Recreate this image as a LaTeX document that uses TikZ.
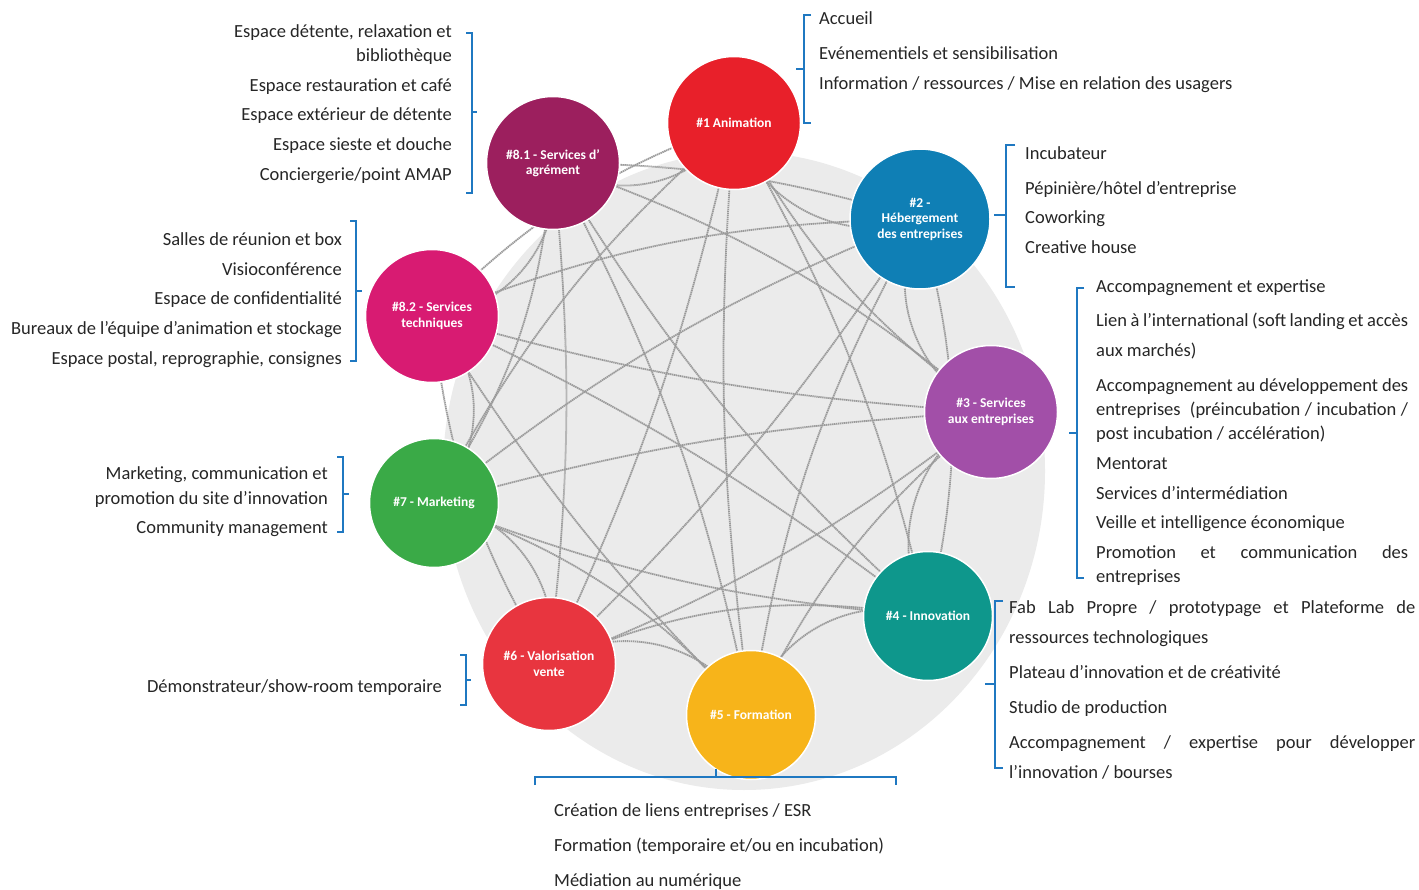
\documentclass[tikz,border=0pt]{standalone}
\usepackage{fontspec}
\setmainfont{Carlito}
\usetikzlibrary{backgrounds}
\definecolor{brk}{HTML}{1F78C1}
\definecolor{txt}{HTML}{262626}
\definecolor{cPlum}{HTML}{9C1F5E}
\definecolor{cRed}{HTML}{E8202A}
\definecolor{cBlue}{HTML}{0F7FB5}
\definecolor{cPink}{HTML}{D81B72}
\definecolor{cPurple}{HTML}{A24FA8}
\definecolor{cGreen}{HTML}{3AAA47}
\definecolor{cRed2}{HTML}{E8353F}
\definecolor{cYellow}{HTML}{F7B41A}
\definecolor{cTeal}{HTML}{0E978C}
\definecolor{bgdisk}{HTML}{EBEBEB}
\definecolor{lnk}{HTML}{9A9A9A}
\begin{document}
\begin{tikzpicture}[x=1pt,y=-1pt,
  hub/.style={circle,draw=white,line width=1.5pt,minimum size=133pt,inner sep=0pt,text=white,font=\fontsize{13.5}{15.5}\selectfont\bfseries,align=center},
  lt/.style={anchor=west,text=txt,font=\fontsize{18.5}{22}\selectfont,inner sep=0pt,text height=12.5pt,text depth=4pt},
  rt/.style={anchor=east,text=txt,font=\fontsize{18.5}{22}\selectfont,inner sep=0pt,text height=12.5pt,text depth=4pt},
  brkline/.style={draw=brk,line width=1.3pt},
  conn/.style={draw=lnk,line width=1.8pt,dash pattern=on 1.4pt off 0.6pt}]
\useasboundingbox (0,0) rectangle (1419,890);

% hubs
\node[hub,fill=cPlum] (a81) at (553,163) {\#8.1 - Services d’\\agrément};
\node[hub,fill=cRed] (a1) at (734,123) {\#1 Animation};
\node[hub,fill=cBlue,minimum size=140pt] (a2) at (920,219) {\#2 -\\Hébergement\\des entreprises};
\node[hub,fill=cPink] (a82) at (432,316) {\#8.2 - Services\\techniques};
\node[hub,fill=cPurple] (a3) at (991,412) {\#3 - Services\\aux entreprises};
\node[hub,fill=cGreen,minimum size=129pt] (a7) at (434,503) {\#7 - Marketing};
\node[hub,fill=cRed2] (a6) at (549,664) {\#6 - Valorisation\\vente};
\node[hub,fill=cYellow,minimum size=129pt] (a5) at (751,715) {\#5 - Formation};
\node[hub,fill=cTeal,minimum size=129pt] (a4) at (928,616) {\#4 - Innovation};

\begin{pgfonlayer}{background}
\fill[white] (0,0) rectangle (1419,890);
\fill[bgdisk] (744,471) ellipse [x radius=301, y radius=319];
\foreach \p/\q/\b in {a1/a2/-48, a2/a3/-48, a3/a4/-48, a4/a5/-48, a5/a6/-48, a6/a7/-48, a7/a82/-48, a82/a81/-48, a81/a1/-48,
  a1/a3/-12, a1/a4/8, a1/a5/-6, a1/a6/6, a1/a7/-10, a1/a82/-12,
  a2/a4/14, a2/a5/-10, a2/a6/6, a2/a7/-8, a2/a82/-10, a2/a81/-8,
  a3/a5/-12, a3/a6/8, a3/a7/-6, a3/a82/6, a3/a81/-10,
  a4/a6/-16, a4/a7/8, a4/a82/-6, a4/a81/8,
  a5/a7/-14, a5/a82/6, a5/a81/-8,
  a6/a82/12, a6/a81/-6,
  a7/a81/-14}
  \draw[conn] (\p.center) to[bend left=\b] (\q.center);
\end{pgfonlayer}

% group 8.1
\node[rt] (t811) at (452,33) {Espace détente, relaxation et};
\node[rt] (t812) at (452,57) {bibliothèque};
\node[rt] (t813) at (452,87) {Espace restauration et café};
\node[rt] (t814) at (452,116) {Espace extérieur de détente};
\node[rt] (t815) at (452,146) {Espace sieste et douche};
\node[rt] (t816) at (452,176) {Conciergerie/point AMAP};
\draw[brkline] (466,33) -- (472,33) -- (472,193) -- (466,193);
\draw[brkline] (472,112) -- (477,112);

% group 1
\node[lt] (t11) at (819,20) {Accueil};
\node[lt] (t12) at (819,55) {Evénementiels et sensibilisation};
\node[lt] (t13) at (819,85) {Information / ressources / Mise en relation des usagers};
\draw[brkline] (811,15) -- (804,15) -- (804,123) -- (811,123);
\draw[brkline] (804,69) -- (796,69);

% group 2
\node[lt] (t21) at (1025,155) {Incubateur};
\node[lt] (t22) at (1025,190) {Pépinière/hôtel d’entreprise};
\node[lt] (t23) at (1025,219) {Coworking};
\node[lt] (t24) at (1025,249) {Creative house};
\draw[brkline] (1015,145) -- (1006,145) -- (1006,287) -- (1015,287);
\draw[brkline] (1006,215) -- (994,215);

% group 3
\node[lt] (t31) at (1096,288) {Accompagnement et expertise};
\node[lt] (t32) at (1096,322) {\makebox[312pt][s]{Lien à l’international (soft landing et accès}};
\node[lt] (t33) at (1096,352) {aux marchés)};
\node[lt] (t34) at (1096,387) {\makebox[312pt][s]{Accompagnement au développement des}};
\node[lt] (t35) at (1096,411) {\makebox[312pt][s]{entreprises\ \ (préincubation / incubation /}};
\node[lt] (t36) at (1096,435) {post incubation / accélération)};
\node[lt] (t37) at (1096,465) {Mentorat};
\node[lt] (t38) at (1096,495) {Services d’intermédiation};
\node[lt] (t39) at (1096,524) {Veille et intelligence économique};
\node[lt] (t310) at (1096,554) {\makebox[312pt][s]{Promotion et communication des}};
\node[lt] (t311) at (1096,578) {entreprises};
\draw[brkline] (1084,288) -- (1077,288) -- (1077,578) -- (1084,578);
\draw[brkline] (1077,433) -- (1069,433);

% group 4
\node[lt] (t41) at (1009,609) {\makebox[406pt][s]{Fab Lab Propre / prototypage et Plateforme de}};
\node[lt] (t42) at (1009,639) {ressources technologiques};
\node[lt] (t43) at (1009,674) {Plateau d’innovation et de créativité};
\node[lt] (t44) at (1009,709) {Studio de production};
\node[lt] (t45) at (1009,744) {\makebox[406pt][s]{Accompagnement / expertise pour développer}};
\node[lt] (t46) at (1009,774) {l’innovation / bourses};
\draw[brkline] (1003,601) -- (995,601) -- (995,768) -- (1003,768);
\draw[brkline] (995,684) -- (985,684);

% group 5
\node[lt] (t51) at (554,812) {Création de liens entreprises / ESR};
\node[lt] (t52) at (554,847) {Formation (temporaire et/ou en incubation)};
\node[lt] (t53) at (554,882) {Médiation au numérique};
\draw[brkline] (535,785) -- (535,777) -- (896,777) -- (896,785);
\draw[brkline] (716,777) -- (716,769);

% group 6
\node[rt] (t61) at (442,688) {Démonstrateur/show-room temporaire};
\draw[brkline] (460,655) -- (466,655) -- (466,705) -- (460,705);
\draw[brkline] (466,680) -- (471,680);

% group 7
\node[rt] (t71) at (328,475) {Marketing, communication et};
\node[rt] (t72) at (328,500) {promotion du site d’innovation};
\node[rt] (t73) at (328,529) {Community management};
\draw[brkline] (337,457) -- (343,457) -- (343,532) -- (337,532);
\draw[brkline] (343,494) -- (349,494);

% group 8.2
\node[rt] (t821) at (342,241) {Salles de réunion et box};
\node[rt] (t822) at (342,271) {Visioconférence};
\node[rt] (t823) at (342,300) {Espace de confidentialité};
\node[rt] (t824) at (342,330) {Bureaux de l’équipe d’animation et stockage};
\node[rt] (t825) at (342,360) {Espace postal, reprographie, consignes};
\draw[brkline] (350,221) -- (356,221) -- (356,361) -- (350,361);
\draw[brkline] (356,291) -- (362,291);
\end{tikzpicture}
\end{document}
